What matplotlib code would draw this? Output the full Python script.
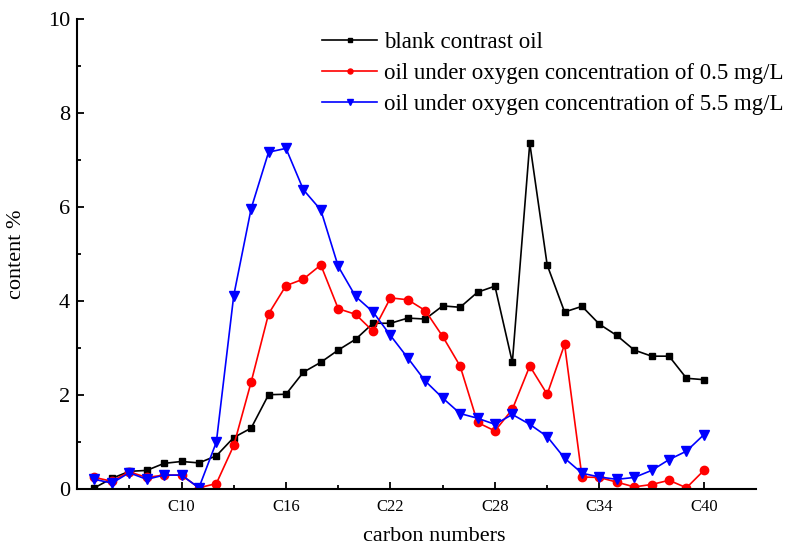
import matplotlib
matplotlib.use("Agg")
import matplotlib.pyplot as plt
from matplotlib.ticker import FixedLocator, MultipleLocator

plt.rcParams['font.family'] = ['Liberation Serif', 'DejaVu Serif']

# carbon numbers C5..C40
carbons = list(range(5, 41))

blank = [0.03, 0.23, 0.38, 0.40, 0.55, 0.59, 0.56, 0.71, 1.10, 1.30,
         2.01, 2.02, 2.49, 2.70, 2.96, 3.19, 3.53, 3.53, 3.64, 3.62,
         3.90, 3.87, 4.19, 4.32, 2.70, 7.36, 4.77, 3.77, 3.89, 3.51,
         3.27, 2.96, 2.83, 2.83, 2.36, 2.33]

oxy_05 = [0.25, 0.17, 0.37, 0.25, 0.30, 0.30, 0.03, 0.12, 0.93, 2.28,
          3.73, 4.33, 4.47, 4.77, 3.84, 3.72, 3.36, 4.07, 4.03, 3.80,
          3.25, 2.62, 1.42, 1.24, 1.70, 2.62, 2.02, 3.08, 0.26, 0.25,
          0.15, 0.05, 0.10, 0.19, 0.03, 0.40]

oxy_55 = [0.21, 0.13, 0.35, 0.21, 0.30, 0.30, 0.03, 1.00, 4.12, 5.97,
          7.17, 7.25, 6.37, 5.94, 4.74, 4.10, 3.77, 3.27, 2.79, 2.30,
          1.94, 1.61, 1.51, 1.38, 1.59, 1.38, 1.12, 0.66, 0.34, 0.26,
          0.21, 0.25, 0.40, 0.63, 0.81, 1.16]

major_ticks = [10, 16, 22, 28, 34, 40]
major_labels = ['C10', 'C16', 'C22', 'C28', 'C34', 'C40']

fig = plt.figure(figsize=(7.86, 5.46), dpi=100)
ax = fig.add_axes([0.098, 0.104, 0.864, 0.861])

ax.plot(carbons, blank, color='black', marker='s', markersize=5, lw=1.2,
        label='blank contrast oil')
ax.plot(carbons, oxy_05, color='#ff0000', marker='o', markersize=6, lw=1.2,
        label='oil under oxygen concentration of 0.5 mg/L')
ax.plot(carbons, oxy_55, color='#0000ff', marker='v', markersize=7, lw=1.2,
        label='oil under oxygen concentration of 5.5 mg/L')

ax.set_xlim(4, 43)
ax.set_ylim(0, 10)
ax.xaxis.set_major_locator(FixedLocator(major_ticks))
ax.set_xticklabels(major_labels, fontsize=12)
ax.xaxis.set_minor_locator(FixedLocator([7, 13, 19, 25, 31, 37]))
ax.yaxis.set_major_locator(MultipleLocator(2))
ax.yaxis.set_minor_locator(MultipleLocator(1))
ax.tick_params(axis='y', labelsize=16, pad=5)
ax.tick_params(axis='x', pad=7)
ax.tick_params(which='both', direction='in', width=1.3)
ax.tick_params(which='major', length=5)
ax.tick_params(which='minor', length=3)

for s in ['top', 'right']:
    ax.spines[s].set_visible(False)
for s in ['left', 'bottom']:
    ax.spines[s].set_linewidth(1.5)

ax.set_xlabel('carbon numbers', fontsize=16)
ax.xaxis.set_label_coords(0.5265, -0.081)
ax.set_ylabel('content %', fontsize=16)
ax.yaxis.set_label_coords(-0.075, 0.5)

ax.legend(loc='upper left', bbox_to_anchor=(0.361, 0.972), frameon=False,
          fontsize=16.5, handlelength=2.4, handletextpad=0.3, labelspacing=0.43,
          markerscale=0.6, borderpad=0, borderaxespad=0)

fig.savefig('out.png', dpi=100)
